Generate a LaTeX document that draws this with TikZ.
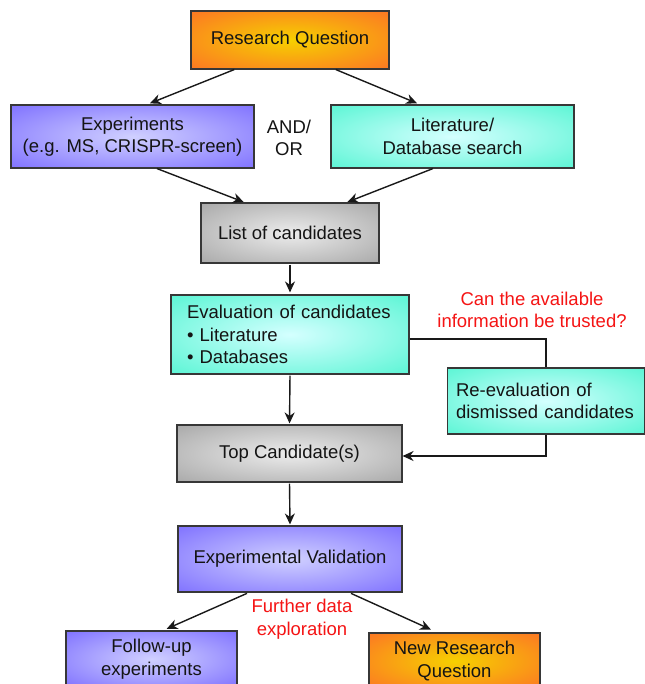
\documentclass[tikz,border=0pt]{standalone}
\usepackage{fontspec}
\setmainfont{Liberation Sans}
\usetikzlibrary{arrows.meta,calc}
\definecolor{orI}{RGB}{246,208,0}
\definecolor{orO}{RGB}{252,118,36}
\definecolor{puI}{RGB}{208,208,255}
\definecolor{puO}{RGB}{127,113,255}
\definecolor{cyI}{RGB}{212,255,255}
\definecolor{cyO}{RGB}{90,245,212}
\definecolor{grI}{RGB}{236,236,236}
\definecolor{grO}{RGB}{168,168,168}
\definecolor{bord}{RGB}{55,55,55}
\definecolor{myred}{RGB}{245,20,20}
\definecolor{txt}{RGB}{20,20,20}
\pgfdeclareradialshading{shOrange}{\pgfpoint{0bp}{0bp}}{color(0bp)=(orI); color(36bp)=(orO); color(50bp)=(orO)}
\pgfdeclareradialshading{shPurple}{\pgfpoint{0bp}{0bp}}{color(0bp)=(puI); color(36bp)=(puO); color(50bp)=(puO)}
\pgfdeclareradialshading{shCyan}{\pgfpoint{0bp}{0bp}}{color(0bp)=(cyI); color(36bp)=(cyO); color(50bp)=(cyO)}
\pgfdeclareradialshading{shGray}{\pgfpoint{0bp}{0bp}}{color(0bp)=(grI); color(36bp)=(grO); color(50bp)=(grO)}
\tikzset{
  box/.style={draw=bord, line width=1.1pt, inner sep=0pt, align=center, text=txt,
    font=\fontsize{18.5}{22.5}\selectfont},
  orbox/.style={box, shading=shOrange},
  pubox/.style={box, shading=shPurple},
  cybox/.style={box, shading=shCyan},
  grbox/.style={box, shading=shGray},
  plain/.style={align=center, text=txt, inner sep=0pt, font=\fontsize{18.5}{22.5}\selectfont},
  redtxt/.style={plain, text=myred},
  arr/.style={line width=1.4pt, draw=black!90, -{Stealth[length=11pt,width=10pt,inset=3.5pt]}},
  conn/.style={line width=1.4pt, draw=black!90}
}
\begin{document}
\begin{tikzpicture}[x=1pt,y=-1pt]
\useasboundingbox[fill=white] (0,0) rectangle (644,684);
% nodes
\node[orbox, minimum width=198pt, minimum height=58pt] (rq) at (290,40) {Research Question};
\node[pubox, minimum width=243pt, minimum height=63pt] (exp) at (132.5,136.5) {Experiments\\(e.g. MS, CRISPR-screen)};
\node[plain] (andor) at (289,138) {AND/\\OR};
\node[cybox, minimum width=243pt, minimum height=63pt] (lit) at (452.5,136.5) {Literature/\\Database search};
\node[grbox, minimum width=178pt, minimum height=60pt] (list) at (290,233) {List of candidates};
\node[cybox, minimum width=238pt, minimum height=79pt, text width=206pt, align=left] (eval) at (290,334.5)
  {Evaluation of candidates\\\textbullet\ Literature\\\textbullet\ Databases};
\node[redtxt] (trust) at (532,310) {Can the available\\information be trusted?};
\node[cybox, minimum width=197pt, minimum height=66pt, text width=180pt, align=left] (reeval) at (546,401)
  {Re-evaluation of\\dismissed candidates};
\node[grbox, minimum width=225pt, minimum height=57pt] (top) at (289.5,453.5) {Top Candidate(s)};
\node[pubox, minimum width=224pt, minimum height=66pt] (val) at (290,559) {Experimental Validation};
\node[redtxt] (further) at (302,619) {Further data\\exploration};
\node[pubox, minimum width=171pt, minimum height=56pt] (follow) at (151.5,659) {Follow-up\\experiments};
\node[orbox, minimum width=171pt, minimum height=56pt] (newrq) at (454.5,661) {New Research\\Question};
% connectors
\draw[arr, shorten >=3pt] ($(rq.south west)!0.22!(rq.south east)$) -- ($(exp.north west)!0.56!(exp.north east)$);
\draw[arr, shorten >=3pt] ($(rq.south west)!0.73!(rq.south east)$) -- ($(lit.north west)!0.366!(lit.north east)$);
\draw[arr, shorten >=1pt] ($(exp.south west)!0.6!(exp.south east)$) -- ($(list.north west)!0.247!(list.north east)$);
\draw[arr, shorten >=1pt] ($(lit.south west)!0.42!(lit.south east)$) -- ($(list.north west)!0.815!(list.north east)$);
\draw[arr, shorten <=1pt, shorten >=2pt] (list.south) -- (eval.north);
\draw[conn] ($(eval.east)+(0,4.5)$) -| (reeval.north);
\draw[arr] (reeval.south) |- ($(top.east)+(0,2.5)$);
\draw[arr, shorten <=1pt, shorten >=1pt] (eval.south) -- (top.north);
\draw[arr, shorten <=1pt, shorten >=1pt] (top.south) -- (val.north);
\draw[arr, shorten <=2pt, shorten >=4pt] ($(val.south west)!0.317!(val.south east)$) -- ($(follow.north west)!0.567!(follow.north east)$);
\draw[arr, shorten <=2pt, shorten >=7pt] ($(val.south west)!0.763!(val.south east)$) -- ($(newrq.north west)!0.4!(newrq.north east)$);
\end{tikzpicture}
\end{document}
